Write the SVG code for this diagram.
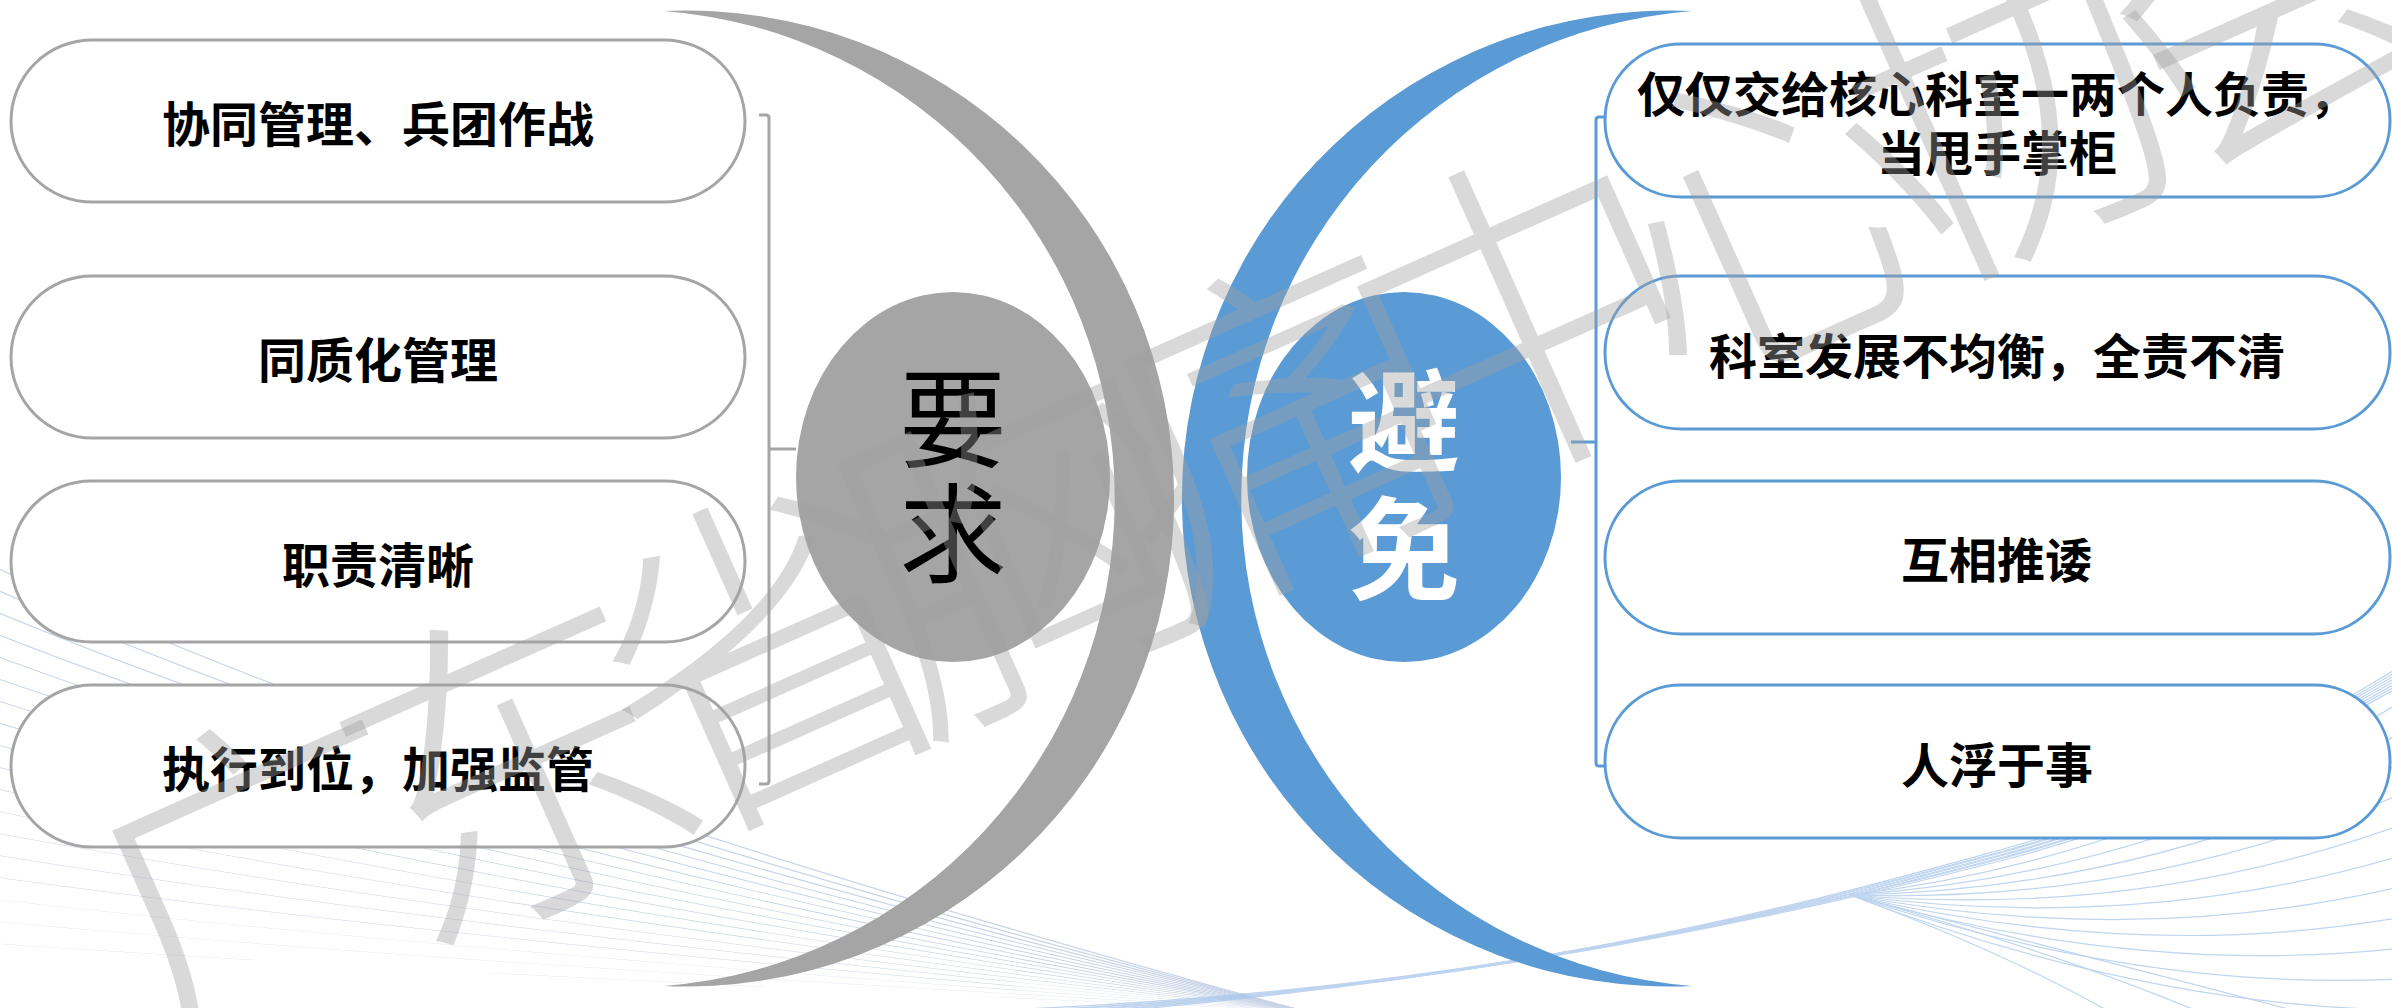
<svg xmlns="http://www.w3.org/2000/svg" xmlns:xlink="http://www.w3.org/1999/xlink" width="2392" height="1008" viewBox="0 0 2392 1008">
<defs>
<style>
.pl{fill:#fff;stroke:#a5a5a5;stroke-width:3}
.pr{fill:#fff;stroke:#5b9bd5;stroke-width:3}
.t{font-family:"Noto Sans CJK SC","Noto Sans CJK JP",sans-serif;font-weight:700;font-size:48px;fill:#000;text-anchor:middle;dominant-baseline:central}
.big{font-family:"Noto Sans CJK SC","Noto Sans CJK JP",sans-serif;text-anchor:middle;dominant-baseline:central}
.ba{fill:none;stroke:#c6d3e6;stroke-width:1.2}
.bb{fill:none;stroke:#a9c6ea;stroke-width:1.2;opacity:.75}
.wm{font-family:"Noto Sans CJK SC","Noto Sans CJK JP",sans-serif;font-weight:300;font-size:345px;letter-spacing:-70px;fill:#a0a0a0;fill-opacity:.4;text-anchor:middle;dominant-baseline:central}
</style>
<path id="wa" d="M -20 560 Q 450 780 1300 1010"/>
</defs>
<rect width="2392" height="1008" fill="#fff"/>
<g id="background">
<g class="ba">
<use xlink:href="#wa"/>
<use xlink:href="#wa" transform="translate(0 1010) scale(1 .95) translate(0 -1010)"/>
<use xlink:href="#wa" transform="translate(0 1010) scale(1 .9) translate(0 -1010)"/>
<use xlink:href="#wa" transform="translate(0 1010) scale(1 .85) translate(0 -1010)"/>
<use xlink:href="#wa" transform="translate(0 1010) scale(1 .8) translate(0 -1010)"/>
<use xlink:href="#wa" transform="translate(0 1010) scale(1 .75) translate(0 -1010)"/>
<use xlink:href="#wa" transform="translate(0 1010) scale(1 .7) translate(0 -1010)"/>
<use xlink:href="#wa" transform="translate(0 1010) scale(1 .65) translate(0 -1010)"/>
<use xlink:href="#wa" transform="translate(0 1010) scale(1 .6) translate(0 -1010)"/>
<use xlink:href="#wa" transform="translate(0 1010) scale(1 .55) translate(0 -1010)"/>
<use xlink:href="#wa" transform="translate(0 1010) scale(1 .5) translate(0 -1010)"/>
<use xlink:href="#wa" transform="translate(0 1010) scale(1 .45) translate(0 -1010)"/>
<use xlink:href="#wa" transform="translate(0 1010) scale(1 .4) translate(0 -1010)"/>
<use xlink:href="#wa" transform="translate(0 1010) scale(1 .35) translate(0 -1010)"/>
<use xlink:href="#wa" transform="translate(0 1010) scale(1 .3) translate(0 -1010)"/>
<use xlink:href="#wa" transform="translate(0 1010) scale(1 .25) translate(0 -1010)"/>
<use xlink:href="#wa" transform="translate(0 1010) scale(1 .2) translate(0 -1010)"/>
<use xlink:href="#wa" transform="translate(0 1010) scale(1 .15) translate(0 -1010)"/>
</g>
<g class="bb">
<path d="M1000 1010 C1500 990 1800 905 2000 850 S2300 725 2420 655"/>
<path d="M1000 1012 C1500 989 1800 906 2000 852 S2300 727 2420 658"/>
<path d="M1000 1013 C1500 988 1800 907 2000 853 S2300 729 2420 661"/>
<path d="M1000 1015 C1500 987 1800 908 2000 855 S2300 731 2420 664"/>
<path d="M1000 1016 C1500 986 1800 909 2000 856 S2300 733 2420 667"/>
<path d="M1000 1018 C1500 985 1800 910 2000 858 S2300 735 2420 670"/>
<path d="M1000 1019 C1500 984 1800 911 2000 859 S2300 737 2420 673"/>
<path d="M1000 1021 C1500 983 1800 912 2000 861 S2300 739 2420 676"/>
<path d="M1850 895 Q2150 860 2420 690"/>
<path d="M1850 895 Q2150 875 2420 722"/>
<path d="M1850 895 Q2150 890 2420 754"/>
<path d="M1850 895 Q2150 905 2420 786"/>
<path d="M1850 895 Q2150 920 2420 818"/>
<path d="M1850 895 Q2150 935 2420 850"/>
<path d="M1850 895 Q2150 950 2420 882"/>
<path d="M1850 895 Q2150 965 2420 914"/>
<path d="M1850 895 Q2150 980 2420 946"/>
<path d="M1850 895 Q2150 995 2420 978"/>
<path d="M1850 895 Q2150 1010 2420 1010"/>
<path d="M1850 895 Q2100 960 2300 1012"/>
<path d="M1850 895 Q2050 950 2200 1012"/>
<path d="M1850 895 Q2000 950 2110 1012"/>
</g>
</g>
<g id="crescent-left"><path d="M664 11 A488 488 0 1 1 664 986 A489 489 0 0 0 664 11 Z" fill="#a5a5a5"/></g>
<g id="crescent-right"><path d="M1692 11 A488 488 0 1 0 1692 986 A489 489 0 0 1 1692 11 Z" fill="#5b9bd5"/></g>
<g id="node-yaoqiu">
<ellipse cx="953" cy="477" rx="157" ry="185" fill="#a5a5a5"/>
<text class="big" x="953" y="412" font-size="108" font-weight="400" fill="#000">要</text>
<text class="big" x="953" y="527" font-size="108" font-weight="400" fill="#000">求</text>
</g>
<g id="node-bimian">
<ellipse cx="1404" cy="477" rx="157" ry="185" fill="#5b9bd5"/>
<text class="big" x="1404" y="415" font-size="112" font-weight="700" fill="#fff">避</text>
<text class="big" x="1404" y="543" font-size="112" font-weight="700" fill="#fff">免</text>
</g>
<g id="connectors" fill="none" stroke-width="3">
<path d="M759 115 H766 Q769 115 769 118 V781 Q769 784 766 784 H759 M769 449 H796" stroke="#a5a5a5"/>
<path d="M1604 117 H1599 Q1596 117 1596 120 V763 Q1596 766 1599 766 H1604 M1596 442 H1571" stroke="#5b9bd5"/>
</g>
<g id="node-l1"><rect class="pl" x="11" y="40" width="734" height="162" rx="81"/><text class="t" x="378" y="121">协同管理、兵团作战</text></g>
<g id="node-l2"><rect class="pl" x="11" y="276" width="734" height="162" rx="81"/><text class="t" x="378" y="357">同质化管理</text></g>
<g id="node-l3"><rect class="pl" x="11" y="481" width="734" height="161" rx="80"/><text class="t" x="378" y="562">职责清晰</text></g>
<g id="node-l4"><rect class="pl" x="11" y="685" width="734" height="162" rx="81"/><text class="t" x="378" y="766">执行到位，加强监管</text></g>
<g id="node-r1"><rect class="pr" x="1605" y="44" width="785" height="153" rx="76"/><text class="t" x="1997" y="91">仅仅交给核心科室一两个人负责，</text><text class="t" x="1997" y="150">当甩手掌柜</text></g>
<g id="node-r2"><rect class="pr" x="1605" y="276" width="785" height="153" rx="76"/><text class="t" x="1997" y="353">科室发展不均衡，全责不清</text></g>
<g id="node-r3"><rect class="pr" x="1605" y="481" width="785" height="153" rx="76"/><text class="t" x="1997" y="557">互相推诿</text></g>
<g id="node-r4"><rect class="pr" x="1605" y="685" width="785" height="153" rx="76"/><text class="t" x="1997" y="762">人浮于事</text></g>
<g id="watermark"><text class="wm" transform="translate(1230 425) rotate(-24)">广东省胸痛中心协会</text></g>
</svg>
